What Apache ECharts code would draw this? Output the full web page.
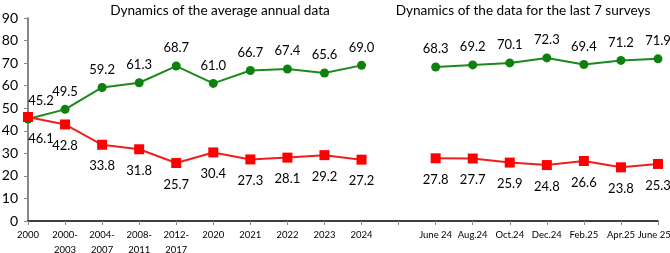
<!DOCTYPE html>
<html><head><meta charset="utf-8">
<script src="https://cdn.jsdelivr.net/npm/echarts@6/dist/echarts.min.js"></script>
<style>html,body{margin:0;padding:0;background:#fff}#c{width:670px;height:253px}</style>
</head><body><div id="c"></div>
<script>
var categories = ["2000","2000-\n2003","2004-\n2007","2008-\n2011","2012-\n2017","2020","2021","2022","2023","2024","","June 24","Aug.24","Oct.24","Dec.24","Feb.25","Apr.25","June 25"];
var greenValues = [45.2,49.5,59.2,61.3,68.7,61.0,66.7,67.4,65.6,69.0,null,68.3,69.2,70.1,72.3,69.4,71.2,71.9];
var redValues = [46.1,42.8,33.8,31.8,25.7,30.4,27.3,28.1,29.2,27.2,null,27.8,27.7,25.9,24.8,26.6,23.8,25.3];
var yTicks = [0,10,20,30,40,50,60,70,80,90];
var titleLeft = "Dynamics of the average annual data";
var titleRight = "Dynamics of the data for the last 7 surveys";

var FONT = "Lato, 'Open Sans', sans-serif";
function withFirstOffset(vals){
  return vals.map(function(v,i){
    if(i===0) return {value:v,label:{offset:[13,0]}};
    return v;
  });
}
var lastIdx = categories.length - 1;
var NB = '\u00a0';
var chart = echarts.init(document.getElementById('c'), null, {renderer:'canvas'});
chart.setOption({
  animation:false,
  title:[
    {text:titleLeft, left:215, top:-1, textAlign:'center', textStyle:{fontFamily:FONT,fontSize:13.6,fontWeight:'normal',color:'#000'}},
    {text:titleRight, left:518, top:-1, textAlign:'center', textStyle:{fontFamily:FONT,fontSize:13.6,fontWeight:'normal',color:'#000'}}
  ],
  grid:{left:28,right:12,top:18,bottom:32,containLabel:false,outerBoundsMode:'none'},
  xAxis:{type:'category',data:categories,boundaryGap:false,
    axisLine:{lineStyle:{color:'#000',width:1.5}},
    axisTick:{show:true,length:4,inside:false,lineStyle:{color:'#888'},alignWithLabel:true},
    axisLabel:{interval:0,fontFamily:FONT,fontSize:9.5,color:'#000',margin:6,lineHeight:15,
      showMaxLabel:true,showMinLabel:true,
      formatter:function(v,i){
        if(i===lastIdx) return NB + v + NB+NB+NB+NB;
        return v;}},
    splitLine:{show:false}},
  yAxis:{type:'value',min:0,max:90,interval:10,
    axisLine:{show:true,lineStyle:{color:'#888',width:2}},
    axisTick:{show:true,length:4,lineStyle:{color:'#888'}},
    axisLabel:{fontFamily:FONT,fontSize:14,color:'#000',margin:10,
      formatter:function(v){return yTicks.indexOf(v)>=0?String(v):'';}},
    splitLine:{show:false}},
  series:[
    {type:'line',data:withFirstOffset(greenValues),connectNulls:false,symbol:'circle',symbolSize:9,
     lineStyle:{color:'#1a8a1a',width:2},itemStyle:{color:'#108010'},
     label:{show:true,position:'top',distance:7,fontFamily:FONT,fontSize:13,color:'#000',
       formatter:function(p){return p.value==null?'':Number(p.value).toFixed(1);}}},
    {type:'line',data:withFirstOffset(redValues),connectNulls:false,symbol:'rect',symbolSize:10,
     lineStyle:{color:'#f01e1e',width:2},itemStyle:{color:'#ff0000'},
     label:{show:true,position:'bottom',distance:10,fontFamily:FONT,fontSize:13,color:'#000',
       formatter:function(p){return p.value==null?'':Number(p.value).toFixed(1);}}}
  ]
});
</script></body></html>
